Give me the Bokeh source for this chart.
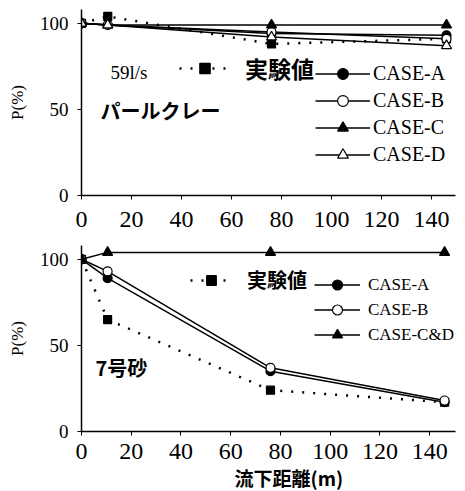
from bokeh.plotting import figure
from bokeh.models import Legend, LegendItem, Label, Range1d, Title, FixedTicker
from bokeh.layouts import column
from bokeh.embed import file_html
from bokeh.resources import INLINE

# ---- data ----
dist = [0, 10.5, 76, 146]
top_exp = [100, 104, 88, 91]
top_a = [100, 99, 94, 93]
top_b = [100, 99, 95, 91]
top_c = [100, 99, 99, 99]
top_d = [100, 99, 92, 87]
bot_exp = [100, 65, 24, 17]
bot_a = [100, 89, 35, 17]
bot_b = [100, 93, 37, 18]
bot_cd = [100, 104, 104, 104]
x_ticks = [0, 20, 40, 60, 80, 100, 120, 140]
y_ticks = [0, 50, 100]

SERIF = "Liberation Serif"
CJK = "Noto Sans CJK JP"


def make_fig(height, left, top, bottom, xmax, xstandoff):
    p = figure(width=457, height=height, output_backend="svg", toolbar_location=None,
               x_range=Range1d(0, xmax), y_range=Range1d(0, 108),
               min_border_left=left, min_border_right=2, min_border_top=top,
               min_border_bottom=bottom)
    p.outline_line_color = None
    p.grid.visible = False
    p.background_fill_color = "white"
    p.border_fill_color = "white"
    p.xaxis.ticker = FixedTicker(ticks=x_ticks)
    p.yaxis.ticker = FixedTicker(ticks=y_ticks)
    for ax in (p.xaxis[0], p.yaxis[0]):
        ax.axis_line_color = "black"
        ax.axis_line_width = 1.5
        ax.major_tick_line_color = "black"
        ax.major_tick_in = 0
        ax.major_tick_out = 4
        ax.minor_tick_line_color = None
        ax.major_label_text_font = SERIF
        ax.major_label_text_color = "black"
    p.xaxis.major_label_text_font_size = "24px"
    p.xaxis.major_label_standoff = xstandoff
    p.yaxis.major_label_text_font_size = "19px"
    p.yaxis.major_label_standoff = 9
    p.yaxis.axis_label = "P(%)"
    p.yaxis.axis_label_text_font = SERIF
    p.yaxis.axis_label_text_font_style = "normal"
    p.yaxis.axis_label_text_font_size = "17px"
    p.yaxis.axis_label_text_color = "black"
    p.yaxis.axis_label_standoff = 10
    return p


def add_series(p, ys, marker, fill, dashed=False, size=9):
    if dashed:
        ln = p.line(dist, ys, line_color="black", line_width=2.5, line_dash="2 9")
    else:
        ln = p.line(dist, ys, line_color="black", line_width=1.5)
    sc = p.scatter(dist, ys, marker=marker, size=size, line_color="black",
                   fill_color=fill, line_width=1.2)
    return [ln, sc]


def style_legend(lg, font, size, bold, gw, gh, standoff):
    lg.border_line_color = None
    lg.background_fill_alpha = 0
    lg.padding = 0
    lg.margin = 0
    lg.spacing = 0
    lg.glyph_width = gw
    lg.glyph_height = gh
    lg.label_height = gh
    lg.label_standoff = standoff
    lg.label_text_font = font
    lg.label_text_font_size = size
    lg.label_text_font_style = "bold" if bold else "normal"
    lg.label_text_color = "black"


# ---- top panel ----
p1 = make_fig(240, 81, 9, 45, 149.6, 12)
r_exp = add_series(p1, top_exp, "square", "black", dashed=True, size=8)
r_a = add_series(p1, top_a, "circle", "black")
r_b = add_series(p1, top_b, "circle", "white")
r_c = add_series(p1, top_c, "triangle", "black", size=10)
r_d = add_series(p1, top_d, "triangle", "white", size=10)

lg1 = Legend(items=[LegendItem(label="実験値", renderers=r_exp)], location=(98, 110))
style_legend(lg1, CJK, "23px", True, 51, 26, 15)
lg2 = Legend(items=[LegendItem(label="CASE-A", renderers=r_a),
                    LegendItem(label="CASE-B", renderers=r_b),
                    LegendItem(label="CASE-C", renderers=r_c),
                    LegendItem(label="CASE-D", renderers=r_d)], location=(234, 27))
style_legend(lg2, SERIF, "20px", False, 55, 27, 3)
p1.add_layout(lg1)
p1.add_layout(lg2)
p1.add_layout(Label(x=11.6, y=71.3, text="59l/s", text_font=SERIF, text_font_size="19px",
                    text_baseline="middle", text_color="black"))
p1.add_layout(Label(x=7.6, y=49.3, text="パールクレー", text_font=CJK, text_font_size="20px",
                    text_font_style="bold", text_baseline="middle", text_color="black"))

# ---- bottom panel ----
p2 = make_fig(250, 79, 5, 59, 150.4, 8)
s_exp = add_series(p2, bot_exp, "square", "black", dashed=True, size=8)
s_a = add_series(p2, bot_a, "circle", "black")
s_b = add_series(p2, bot_b, "circle", "white")
s_cd = add_series(p2, bot_cd, "triangle", "black", size=10)

lg3 = Legend(items=[LegendItem(label="実験値", renderers=s_exp)], location=(109, 137))
style_legend(lg3, CJK, "20px", True, 42, 24, 15)
lg4 = Legend(items=[LegendItem(label="CASE-A", renderers=s_a),
                    LegendItem(label="CASE-B", renderers=s_b),
                    LegendItem(label="CASE-C&D", renderers=s_cd)], location=(233, 84))
style_legend(lg4, SERIF, "17px", False, 46, 25, 8)
p2.add_layout(lg3)
p2.add_layout(lg4)
p2.add_layout(Label(x=5.6, y=36.9, text="7号砂", text_font=CJK, text_font_size="20px",
                    text_font_style="bold", text_baseline="middle", text_color="black"))
p2.add_layout(Title(text="流下距離(m)", align="left", offset=153, text_font=CJK,
                    text_font_size="19px", text_font_style="bold", text_color="black",
                    standoff=0), "below")

layout = column(p1, p2, spacing=0)
open("out.html", "w").write(file_html(layout, INLINE))
